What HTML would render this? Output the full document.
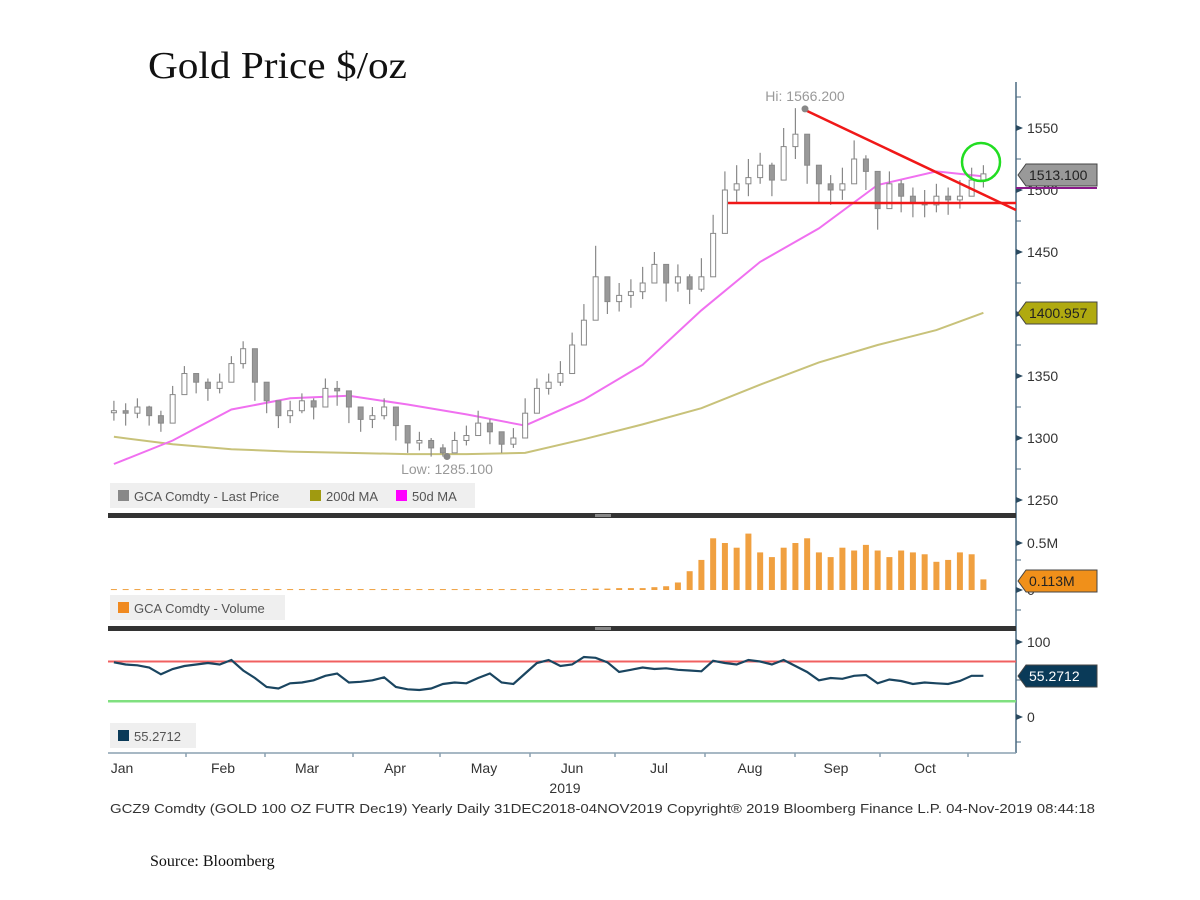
<!DOCTYPE html>
<html><head><meta charset="utf-8"><style>
body{margin:0;background:#fff;}
svg{display:block;font-family:"Liberation Sans",sans-serif;}
</style></head><body>
<svg id="chart" width="1200" height="900" viewBox="0 0 1200 900">
<text x="148" y="78" font-family="Liberation Serif, serif" font-size="38" fill="#111" textLength="259" lengthAdjust="spacingAndGlyphs">Gold Price $/oz</text>
<text x="150" y="866" font-family="Liberation Serif, serif" font-size="16" fill="#111">Source: Bloomberg</text>
<g id="g"></g>
</svg>
<script>
const closes=[1322,1320,1325,1318,1312,1335,1352,1345,1340,1345,1360,1372,1345,1330,1318,1322,1330,1325,1340,1338,1325,1315,1318,1325,1310,1296,1298,1292,1288,1298,1302,1312,1305,1295,1300,1320,1340,1345,1352,1375,1395,1430,1410,1415,1418,1425,1440,1425,1430,1420,1430,1465,1500,1505,1510,1520,1508,1535,1545,1520,1505,1500,1505,1525,1515,1485,1505,1495,1490,1488,1495,1492,1495,1508,1513];
const highs=[1330,1328,1332,1326,1322,1342,1358,1352,1348,1352,1366,1378,1360,1340,1326,1330,1336,1332,1348,1346,1336,1322,1325,1332,1320,1305,1305,1300,1295,1305,1310,1322,1315,1303,1308,1332,1348,1352,1362,1385,1408,1455,1425,1425,1428,1438,1450,1440,1440,1432,1445,1480,1515,1520,1525,1530,1522,1550,1566,1538,1520,1512,1518,1540,1528,1500,1515,1508,1502,1500,1505,1502,1508,1518,1520];
const lows=[1314,1310,1316,1310,1305,1325,1342,1336,1330,1336,1350,1356,1330,1320,1308,1312,1320,1315,1330,1326,1312,1305,1308,1315,1298,1288,1290,1285,1285,1290,1294,1302,1295,1288,1292,1305,1328,1335,1342,1360,1380,1410,1400,1402,1405,1412,1428,1410,1418,1408,1418,1450,1485,1490,1495,1505,1495,1515,1525,1505,1490,1488,1492,1508,1500,1468,1490,1482,1478,1478,1482,1480,1485,1495,1502];
const maIdx=[0,5,10,15,20,25,30,35,40,45,50,55,60,65,70,74];
const ma200=[1301,1295,1291,1289,1288,1287,1287,1288,1299,1311,1324,1343,1361,1375,1387,1401];
const ma50=[1279,1298,1323,1332,1334,1327,1319,1310,1331,1359,1403,1442,1469,1504,1515,1511];
const volume=[0.01,0.01,0.01,0.01,0.01,0.01,0.01,0.01,0.01,0.01,0.01,0.01,0.01,0.01,0.01,0.01,0.01,0.01,0.01,0.01,0.01,0.01,0.01,0.01,0.01,0.01,0.01,0.01,0.01,0.01,0.01,0.01,0.01,0.01,0.01,0.01,0.01,0.01,0.01,0.01,0.01,0.015,0.015,0.02,0.02,0.02,0.03,0.04,0.08,0.2,0.32,0.55,0.5,0.45,0.6,0.4,0.35,0.45,0.5,0.55,0.4,0.35,0.45,0.42,0.48,0.42,0.35,0.42,0.4,0.38,0.3,0.32,0.4,0.38,0.113];
const rsi=[73,70,69,66,57,64,68,70,72,70,76,62,52,40,38,45,46,49,55,58,46,47,49,53,40,37,36,38,44,46,45,52,58,46,44,58,72,76,68,70,80,79,73,60,63,66,64,65,63,62,61,75,72,70,76,74,70,76,68,60,49,52,51,55,56,45,50,48,44,46,45,44,48,55,55];
const priceTicks=[1250,1300,1350,1400,1450,1500,1550];
const volTicks=[0,0.5];
const rsiTicks=[0,100];
const months=["Jan","Feb","Mar","Apr","May","Jun","Jul","Aug","Sep","Oct"];
const monthLabelX=[122,223,307,395,484,572,659,750,836,925];
const monthTickX=[186,265,353,440,530,615,705,795,880,968];
const rsiLevels=[74,21];

const NS="http://www.w3.org/2000/svg";
const g=document.getElementById('g');
function el(t,a,txt){const e=document.createElementNS(NS,t);for(const k in a)e.setAttribute(k,a[k]);if(txt!=null)e.textContent=txt;g.appendChild(e);return e;}
const L=108,R=1016;
const xI=i=>L+5.9+i*11.75;
const yP=p=>128+(1550-p)*1.24;
const yV=v=>590-v*94;
const yR=v=>717-v*0.75;

let e=el('line',{x1:R,y1:82,x2:R,y2:753,stroke:'#4a6a80','stroke-width':1.5});

e=el('line',{x1:L,y1:753,x2:R,y2:753,stroke:'#8aa0b0','stroke-width':1.5});

for(let p=1225;p<=1575;p+=25){const y=yP(p);if(y<84||y>512)continue;e=el('line',{x1:R,y1:y,x2:R+5,y2:y,stroke:'#4a6a80'});}
function tick(y,label,name){e=el('path',{d:`M${R} ${y-3}L${R+7} ${y}L${R} ${y+3}Z`,fill:'#2a4a60'});
e=el('text',{x:R+11,y:y+5,'font-size':14,fill:'#333'},label);}
priceTicks.forEach(p=>tick(yP(p),String(p),'price'));
volTicks.forEach(v=>tick(yV(v),v===0?'0':v+'M','volume'));
rsiTicks.forEach(v=>tick(yR(v),String(v),'rsi'));
[560,610].forEach(y=>{e=el('line',{x1:R,y1:y,x2:R+5,y2:y,stroke:'#4a6a80'});});
[680,742].forEach(y=>{e=el('line',{x1:R,y1:y,x2:R+5,y2:y,stroke:'#4a6a80'});});

[513,626].forEach(y=>{e=el('rect',{x:L,y:y,width:R-L,height:5,fill:'#333'});
e=el('rect',{x:595,y:y+1,width:16,height:3,fill:'#888'});});

function poly(arr,col,w,name){const d=arr.map((v,k)=>(k?'L':'M')+xI(maIdx[k]).toFixed(1)+' '+yP(v).toFixed(1)).join('');
e=el('path',{d:d,fill:'none',stroke:col,'stroke-width':w});}
poly(ma200,'#c8c27a',2,'ma200-line');
poly(ma50,'#f070f0',2,'ma50-line');

closes.forEach((c,i)=>{const o=i?closes[i-1]:c;const x=xI(i);
e=el('line',{x1:x,y1:yP(highs[i]),x2:x,y2:yP(lows[i]),stroke:'#888','stroke-width':1.2});

const t=Math.min(yP(o),yP(c)),h=Math.max(2,Math.abs(yP(o)-yP(c)));
e=el('rect',{x:x-2.5,y:t,width:5,height:h,fill:c>=o?'#fff':'#999',stroke:'#888','stroke-width':1});
});

e=el('line',{x1:805,y1:110,x2:1016,y2:210,stroke:'#f01818','stroke-width':2.5});
e=el('line',{x1:728,y1:203,x2:1016,y2:203,stroke:'#f01818','stroke-width':2.5});
e=el('circle',{cx:981,cy:162,r:19,fill:'none',stroke:'#22dd22','stroke-width':2.5});

e=el('circle',{cx:805,cy:yP(1566.2)+1,r:3.5,fill:'#888'});
e=el('text',{x:805,y:101,'font-size':14,fill:'#999','text-anchor':'middle'},'Hi: 1566.200');
e=el('circle',{cx:447,cy:yP(1285.1),r:3.5,fill:'#888'});
e=el('text',{x:447,y:474,'font-size':14,fill:'#999','text-anchor':'middle'},'Low: 1285.100');

volume.forEach((v,i)=>{const x=xI(i);const y=yV(v);
e=el('rect',{x:x-3,y:y,width:6,height:Math.max(1,590-y),fill:'#f0a040'});
});

e=el('line',{x1:L,y1:yR(rsiLevels[0]),x2:R,y2:yR(rsiLevels[0]),stroke:'#f06060','stroke-width':2});
e=el('line',{x1:L,y1:yR(rsiLevels[1]),x2:R,y2:yR(rsiLevels[1]),stroke:'#80e080','stroke-width':2.5});
e=el('path',{d:rsi.map((v,i)=>(i?'L':'M')+xI(i).toFixed(1)+' '+yR(v).toFixed(1)).join(''),fill:'none',stroke:'#1a4560','stroke-width':2.2});


function legend(x,y,w,items,name){e=el('rect',{x:x,y:y,width:w,height:25,fill:'#efefef'});
items.forEach(it=>{e=el('rect',{x:it[0],y:y+7,width:11,height:11,fill:it[2]});
e=el('text',{x:it[0]+16,y:y+18,'font-size':13,fill:'#555'},it[1]);});}
legend(110,483,365,[[118,'GCA Comdty - Last Price','#888'],[310,'200d MA','#a09a10'],[396,'50d MA','#ff00ff']],'price-legend');
legend(110,595,175,[[118,'GCA Comdty - Volume','#f08a20']],'volume-legend');
legend(110,723,86,[[118,'55.2712','#0a3a58']],'rsi-legend');

function flag(y,txt,bg,fg,name){e=el('path',{d:`M${R+2} ${y}L${R+10} ${y-11}L1097 ${y-11}L1097 ${y+11}L${R+10} ${y+11}Z`,fill:bg,stroke:'#444','stroke-width':1});

e=el('text',{x:R+13,y:y+5,'font-size':14,fill:fg},txt);}
e=el('line',{x1:R,y1:188,x2:1097,y2:188,stroke:'#8a1a8a','stroke-width':2});
flag(175,'1513.100','#999','#222','last-price-flag');
flag(313,'1400.957','#b0aa10','#222','ma200-flag');
flag(581,'0.113M','#f0901a','#222','volume-flag');
flag(676,'55.2712','#0a3a58','#fff','rsi-flag');

monthTickX.forEach(x=>{e=el('line',{x1:x,y1:753,x2:x,y2:757,stroke:'#8aa0b0','stroke-width':1.5});});
months.forEach((m,i)=>{e=el('text',{x:monthLabelX[i],y:773,'font-size':14,fill:'#333','text-anchor':'middle'},m);});
e=el('text',{x:565,y:793,'font-size':14,fill:'#333','text-anchor':'middle'},'2019');
e=el('text',{x:110,y:813,'font-size':13,fill:'#333',textLength:985,lengthAdjust:'spacingAndGlyphs'},'GCZ9 Comdty (GOLD 100 OZ FUTR  Dec19) Yearly  Daily 31DEC2018-04NOV2019    Copyright\u00ae 2019 Bloomberg Finance L.P.    04-Nov-2019 08:44:18');

</script>
</body></html>
